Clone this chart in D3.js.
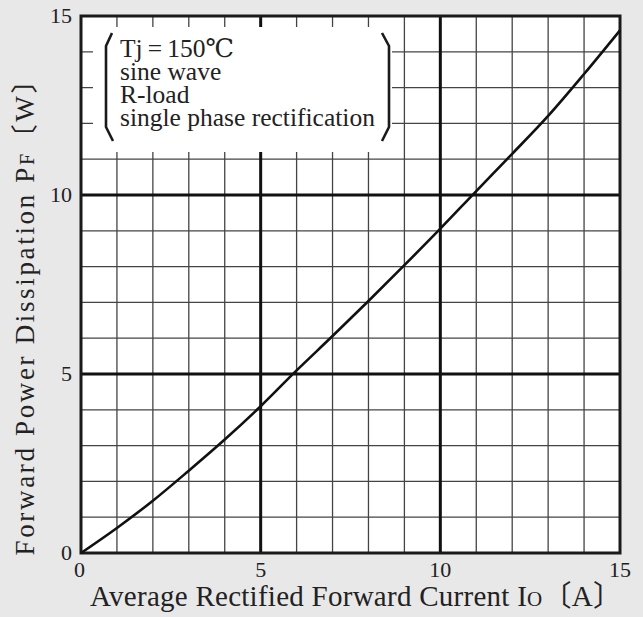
<!DOCTYPE html>
<html lang="en">
<head>
<meta charset="UTF-8">
<title>Forward Power Dissipation</title>
<style>
  html, body { margin: 0; padding: 0; background: #e8e8e8; }
  svg text { font-family: "Liberation Serif", "DejaVu Serif", "Noto Sans CJK JP", serif; fill: #222; }
</style>
<script src="https://d3js.org/d3.v7.min.js"></script>
</head>
<body>
<script>
// values
const currentA = [0, 1, 2, 3, 4, 5, 6, 7, 8, 9, 10, 11, 12, 13, 14, 15];
const powerW = [0, 0.7, 1.46, 2.3, 3.17, 4.1, 5.1, 6.06, 7.04, 8.04, 9.06, 10.11, 11.15, 12.21, 13.38, 14.6];
const xTicks = [0, 5, 10, 15];
const yTicks = [0, 5, 10, 15];
const noteLines = ["Tj\u2009=\u2009150\u2103", "sine wave", "R-load", "single phase rectification"];

const W = 643, H = 617;
const plotL = 81, plotR = 620, plotT = 16, plotB = 553;

const svg = d3.select('body').append('svg')
    .attr('width', W)
    .attr('height', H);

const x = d3.scaleLinear().domain([0, 15]).range([plotL, plotR]);
const y = d3.scaleLinear().domain([0, 15]).range([plotB, plotT]);

// plot background
svg.append('rect')
    .attr('x', plotL).attr('y', plotT)
    .attr('width', plotR - plotL).attr('height', plotB - plotT)
    .attr('fill', '#fff');

// minor grid, every 1
const minor = d3.range(1, 15).filter(v => v % 5 !== 0);
svg.append('g').selectAll('line')
    .data(minor).enter().append('line')
    .attr('x1', d => x(d)).attr('x2', d => x(d))
    .attr('y1', plotT).attr('y2', plotB)
    .attr('stroke', '#444').attr('stroke-width', 1.3);
svg.append('g').selectAll('line')
    .data(minor).enter().append('line')
    .attr('y1', d => y(d)).attr('y2', d => y(d))
    .attr('x1', plotL).attr('x2', plotR)
    .attr('stroke', '#444').attr('stroke-width', 1.3);

// major grid at 5 and 10
const major = [5, 10];
svg.append('g').selectAll('line')
    .data(major).enter().append('line')
    .attr('x1', d => x(d)).attr('x2', d => x(d))
    .attr('y1', plotT).attr('y2', plotB)
    .attr('stroke', '#111').attr('stroke-width', 3);
svg.append('g').selectAll('line')
    .data(major).enter().append('line')
    .attr('y1', d => y(d)).attr('y2', d => y(d))
    .attr('x1', plotL).attr('x2', plotR)
    .attr('stroke', '#111').attr('stroke-width', 3);

// note box hides the grid except short stubs
const bx0 = 93, bx1 = 392, by0 = 27, by1 = 152;
svg.append('rect')
    .attr('x', bx0).attr('y', by0)
    .attr('width', bx1 - bx0).attr('height', by1 - by0)
    .attr('fill', '#fff');

// brackets
svg.append('path')
    .attr('d', `M112,33 L106,46 L106,127 L113,141`)
    .attr('fill', 'none').attr('stroke', '#1a1a1a').attr('stroke-width', 2.6)
    .attr('stroke-linejoin', 'round');
svg.append('path')
    .attr('d', `M382,33 L389,46 L389,127 L382,141`)
    .attr('fill', 'none').attr('stroke', '#1a1a1a').attr('stroke-width', 2.6)
    .attr('stroke-linejoin', 'round');

svg.append('g').selectAll('text')
    .data(noteLines).enter().append('text')
    .attr('x', 120)
    .attr('y', (d, i) => 57 + i * 23)
    .attr('font-size', 25.5)
    .text(d => d);

// border
svg.append('rect')
    .attr('x', plotL).attr('y', plotT)
    .attr('width', plotR - plotL).attr('height', plotB - plotT)
    .attr('fill', 'none').attr('stroke', '#1a1a1a').attr('stroke-width', 3);

// curve
const line = d3.line()
    .x(d => x(d[0]))
    .y(d => y(d[1]))
    .curve(d3.curveCatmullRom.alpha(0.5));
svg.append('path')
    .datum(currentA.map((a, i) => [a, powerW[i]]))
    .attr('d', line)
    .attr('fill', 'none')
    .attr('stroke', '#111')
    .attr('stroke-width', 2.6);

// tick labels
svg.append('g').selectAll('text')
    .data(xTicks).enter().append('text')
    .attr('x', d => x(d) - (d === 0 ? 1.5 : 0))
    .attr('y', 577)
    .attr('text-anchor', 'middle')
    .attr('font-size', 22)
    .text(d => d);
svg.append('g').selectAll('text')
    .data(yTicks).enter().append('text')
    .attr('x', 72)
    .attr('y', d => y(d) + 7)
    .attr('text-anchor', 'end')
    .attr('font-size', 22)
    .text(d => d);

// axis titles
const xt = svg.append('text')
    .attr('x', 356).attr('y', 606)
    .attr('text-anchor', 'middle')
    .attr('font-size', 29)
    .attr('textLength', 532)
    .attr('lengthAdjust', 'spacing');
xt.append('tspan').text('Average Rectified Forward Current I');
xt.append('tspan').attr('font-size', 21).text('O');
xt.append('tspan').text('\u3014A\u3015');

const yt = svg.append('text')
    .attr('transform', 'translate(34,311) rotate(-90)')
    .attr('text-anchor', 'middle')
    .attr('font-size', 27)
    .attr('textLength', 489)
    .attr('lengthAdjust', 'spacing');
yt.append('tspan').text('Forward Power Dissipation P');
yt.append('tspan').attr('font-size', 20).text('F');
yt.append('tspan').text('\u3014W\u3015');
</script>
</body>
</html>
